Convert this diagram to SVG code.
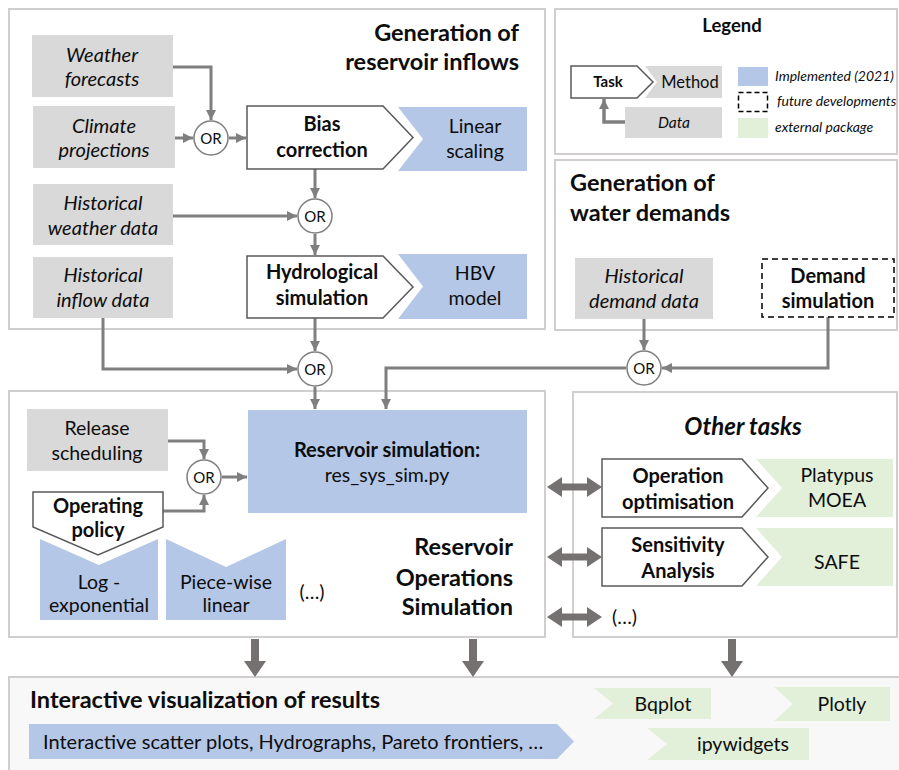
<svg xmlns="http://www.w3.org/2000/svg" width="899" height="770" viewBox="0 0 899 770">
<style>
text{font-family:Lato,"Open Sans","Liberation Sans",sans-serif;fill:#0d0d0d;text-anchor:middle}
.panel{fill:#fff;stroke:#d0cece;stroke-width:2}
.data{fill:#d9d9d9}
.blue{fill:#b4c7e7}
.green{fill:#e2f0d9}
.task{fill:#fff;stroke:#595959;stroke-width:1.5}
.or{fill:#fff;stroke:#7f7f7f;stroke-width:1.5}
.it{font-style:italic;font-size:20px}
.reg{font-size:19.5px}
.b{font-weight:bold;font-size:20px}
.title{font-weight:bold;font-size:23.5px}
.ortx{font-size:15px}
.lg{font-style:italic;font-size:14px;text-anchor:start}
.conn{fill:none;stroke:#7f7f7f;stroke-width:3}
.thick{fill:#767171}
</style>
<defs>
<marker id="ah" markerUnits="userSpaceOnUse" markerWidth="10" markerHeight="10" refX="10" refY="5" orient="auto">
<path d="M0,0 L10,5 L0,10 z" fill="#7f7f7f"/>
</marker>
</defs>

<!-- Panels -->
<g id="panel-inflows"><rect class="panel" x="9" y="9" width="536" height="320"/>
<text class="title" x="519" y="41" style="text-anchor:end">Generation of</text>
<text class="title" x="519" y="70" style="text-anchor:end">reservoir inflows</text></g>
<g id="panel-legend"><rect class="panel" x="555" y="9" width="342" height="145"/>
<text x="732" y="32" style="font-weight:bold;font-size:18.5px">Legend</text></g>
<g id="panel-demands"><rect class="panel" x="555" y="160" width="342" height="170"/>
<text class="title" x="570" y="191" style="text-anchor:start">Generation of</text>
<text class="title" x="570" y="221" style="text-anchor:start">water demands</text></g>
<g id="panel-reservoir"><rect class="panel" x="9" y="391" width="536" height="246"/>
<text class="title" x="513" y="555" style="text-anchor:end">Reservoir</text>
<text class="title" x="513" y="586" style="text-anchor:end">Operations</text>
<text class="title" x="513" y="615" style="text-anchor:end">Simulation</text></g>
<g id="panel-other"><rect class="panel" x="573" y="392" width="324" height="245"/>
<text x="743" y="435" style="font-weight:bold;font-style:italic;font-size:24px">Other tasks</text></g>
<g id="panel-viz"><rect x="9" y="677" width="895" height="100" fill="#f8f8f8" stroke="#d0cece" stroke-width="2"/>
<text class="title" x="30" y="708" style="text-anchor:start">Interactive visualization of results</text></g>

<!-- Legend items -->
<g id="legend-items">
<polygon class="data" points="645,66 722,66 722,98 645,98 657,82"/>
<polygon class="task" points="571,66 637,66 653,82 637,98 571,98"/>
<text x="608" y="87" style="font-weight:bold;font-size:15px">Task</text>
<text x="690" y="88" style="font-size:16.5px">Method</text>
<rect class="data" x="625" y="107" width="97" height="31"/>
<text x="674" y="128" style="font-style:italic;font-size:15.5px">Data</text>
<path d="M625,122 H604 V99" fill="none" stroke="#7f7f7f" stroke-width="3.5" marker-end="url(#ah)"/>
<rect class="blue" x="738" y="67" width="30" height="19"/>
<text class="lg" x="775" y="81">Implemented (2021)</text>
<rect x="738.5" y="92.5" width="29" height="19" fill="none" stroke="#000" stroke-width="1.5" stroke-dasharray="5,3"/>
<text class="lg" x="777" y="106">future developments</text>
<rect class="green" x="738" y="118" width="30" height="20"/>
<text class="lg" x="775" y="132">external package</text>
</g>

<!-- Connectors -->
<g id="connectors">
<path class="conn" d="M173,67 H211 V120" marker-end="url(#ah)"/>
<path class="conn" d="M175,138 H193" marker-end="url(#ah)"/>
<path class="conn" d="M229,138 H246" marker-end="url(#ah)"/>
<path class="conn" d="M315,169 V198" marker-end="url(#ah)"/>
<path class="conn" d="M173,216 H297" marker-end="url(#ah)"/>
<path class="conn" d="M315,234 V255" marker-end="url(#ah)"/>
<path class="conn" d="M315,318 V351" marker-end="url(#ah)"/>
<path class="conn" d="M103,318 V369 H297" marker-end="url(#ah)"/>
<path class="conn" d="M315,387 V409" marker-end="url(#ah)"/>
<path class="conn" d="M644,319 V350" marker-end="url(#ah)"/>
<path class="conn" d="M828,317 V368 H662" marker-end="url(#ah)"/>
<path class="conn" d="M626,368 H386 V409" marker-end="url(#ah)"/>
<path class="conn" d="M168,441 H204 V459" marker-end="url(#ah)"/>
<path class="conn" d="M163,511 H204 V495" marker-end="url(#ah)"/>
<path class="conn" d="M222,477 H247" marker-end="url(#ah)"/>
<polygon class="thick" points="547,487 562,477 562,483.5 587,483.5 587,477 602,487 587,497 587,490.5 562,490.5 562,497"/>
<polygon class="thick" points="547,557 562,547 562,553.5 587,553.5 587,547 602,557 587,567 587,560.5 562,560.5 562,567"/>
<polygon class="thick" points="547,617 562,607 562,613.5 587,613.5 587,607 602,617 587,627 587,620.5 562,620.5 562,627"/>
<polygon class="thick" points="251,639 259,639 259,661 266,661 255,677 244,661 251,661"/>
<polygon class="thick" points="469,639 477,639 477,661 484,661 473,677 462,661 469,661"/>
<polygon class="thick" points="728,639 736,639 736,661 743,661 732,677 721,661 728,661"/>
</g>

<!-- Inflow nodes -->
<g id="weather-forecasts"><rect class="data" x="32" y="35" width="141" height="62"/>
<text class="it" x="102" y="62">Weather</text><text class="it" x="102" y="86">forecasts</text></g>
<g id="climate-projections"><rect class="data" x="33" y="106" width="142" height="62"/>
<text class="it" x="104" y="133">Climate</text><text class="it" x="104" y="157">projections</text></g>
<g id="or1"><circle class="or" cx="211" cy="138" r="17"/><text class="ortx" x="211" y="143.5">OR</text></g>
<g id="bias-correction"><polygon class="task" points="247,106 383,106 413,137.5 383,169 247,169"/>
<text class="b" x="322" y="131">Bias</text><text class="b" x="322" y="157">correction</text></g>
<g id="linear-scaling"><polygon class="blue" points="398,107 527,107 527,171 398,171 423,139"/>
<text class="reg" x="475" y="133">Linear</text><text class="reg" x="475" y="158">scaling</text></g>
<g id="historical-weather"><rect class="data" x="33" y="184" width="140" height="61"/>
<text class="it" x="103" y="210">Historical</text><text class="it" x="103" y="235">weather data</text></g>
<g id="or2"><circle class="or" cx="315" cy="216" r="17"/><text class="ortx" x="315" y="221.5">OR</text></g>
<g id="hydrological-simulation"><polygon class="task" points="247,256 383,256 413,287 383,318 247,318"/>
<text class="b" x="322" y="279">Hydrological</text><text class="b" x="322" y="305">simulation</text></g>
<g id="hbv-model"><polygon class="blue" points="398,254 527,254 527,319 398,319 423,286.5"/>
<text class="reg" x="475" y="280">HBV</text><text class="reg" x="475" y="305">model</text></g>
<g id="historical-inflow"><rect class="data" x="33" y="257" width="140" height="61"/>
<text class="it" x="103" y="282">Historical</text><text class="it" x="103" y="307">inflow data</text></g>
<g id="or3"><circle class="or" cx="315" cy="369" r="17"/><text class="ortx" x="315" y="374.5">OR</text></g>

<!-- Demand nodes -->
<g id="historical-demand"><rect class="data" x="575" y="258" width="138" height="61"/>
<text class="it" x="644" y="283">Historical</text><text class="it" x="644" y="308">demand data</text></g>
<g id="demand-simulation"><rect x="762" y="259" width="132" height="58" fill="#fff" stroke="#000" stroke-width="1.5" stroke-dasharray="6,4"/>
<text class="b" x="828" y="283">Demand</text><text class="b" x="828" y="308">simulation</text></g>
<g id="or4"><circle class="or" cx="644" cy="368" r="17"/><text class="ortx" x="644" y="373.5">OR</text></g>

<!-- Reservoir nodes -->
<g id="release-scheduling"><rect class="data" x="27" y="409" width="141" height="62"/>
<text class="reg" x="97" y="435">Release</text><text class="reg" x="97" y="460">scheduling</text></g>
<g id="log-exponential"><polygon class="blue" points="40,539 99,565 158,539 158,620 40,620"/>
<text class="reg" x="99" y="589">Log -</text><text class="reg" x="99" y="612">exponential</text></g>
<g id="operating-policy"><polygon class="task" points="33,492 163,492 163,527 98,555 33,527"/>
<text class="b" x="98" y="513">Operating</text><text class="b" x="98" y="537">policy</text></g>
<g id="piece-wise-linear"><polygon class="blue" points="166,539 226,567 286,539 286,620 166,620"/>
<text class="reg" x="226" y="589">Piece-wise</text><text class="reg" x="226" y="612">linear</text></g>
<g id="ellipsis-1"><text class="reg" x="312" y="599">(…)</text></g>
<g id="or5"><circle class="or" cx="204" cy="477" r="17"/><text class="ortx" x="204" y="482.5">OR</text></g>
<g id="reservoir-simulation"><rect class="blue" x="248" y="410" width="279" height="103"/>
<text class="b" x="387" y="457">Reservoir simulation:</text><text class="reg" x="387" y="482">res_sys_sim.py</text></g>

<!-- Other tasks nodes -->
<g id="platypus"><polygon class="green" points="756,459 893,459 893,517 756,517 782,488"/>
<text class="reg" x="837" y="482">Platypus</text><text class="reg" x="837" y="507">MOEA</text></g>
<g id="operation-optimisation"><polygon class="task" points="602,459 742,459 768,488 742,517 602,517"/>
<text class="b" x="678" y="483">Operation</text><text class="b" x="678" y="509">optimisation</text></g>
<g id="safe"><polygon class="green" points="756,528 893,528 893,586 756,586 782,557"/>
<text class="reg" x="837" y="569">SAFE</text></g>
<g id="sensitivity-analysis"><polygon class="task" points="602,528 742,528 768,557 742,586 602,586"/>
<text class="b" x="678" y="552">Sensitivity</text><text class="b" x="678" y="578">Analysis</text></g>
<g id="ellipsis-2"><text class="reg" x="612" y="624" style="text-anchor:start">(…)</text></g>

<!-- Visualization nodes -->
<g id="viz-methods"><polygon class="blue" points="29,724 557,724 574,741.5 557,759 29,759"/>
<text x="43" y="748.5" style="text-anchor:start;font-size:20px">Interactive scatter plots, Hydrographs, Pareto frontiers, …</text></g>
<g id="bqplot"><polygon class="green" points="594,688 711,688 711,719 594,719 613,703.5"/>
<text class="reg" x="663" y="711">Bqplot</text></g>
<g id="plotly"><polygon class="green" points="774,687 890,687 890,721 774,721 793,704"/>
<text class="reg" x="842" y="711">Plotly</text></g>
<g id="ipywidgets"><polygon class="green" points="647,728 809,728 809,760 647,760 667,744"/>
<text class="reg" x="743" y="751">ipywidgets</text></g>
</svg>
